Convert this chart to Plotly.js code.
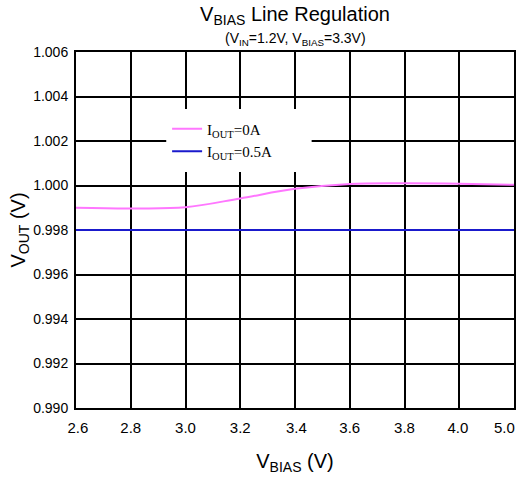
<!DOCTYPE html>
<html>
<head>
<meta charset="utf-8">
<script src="https://cdn.plot.ly/plotly-3.0.1.min.js"></script>
<style>html,body{margin:0;padding:0;background:#fff}#chart{width:519px;height:482px}</style>
</head>
<body>
<div id="chart"></div>
<script>
// Data
const vbiasPos = [2.6, 2.8, 3.0, 3.2, 3.4, 3.6, 3.8, 4.0, 4.2];
const vbiasLabels = ["2.6", "2.8", "3.0", "3.2", "3.4", "3.6", "3.8", "4.0", "5.0"];
const vout0A = [0.99900, 0.99897, 0.99902, 0.99942, 0.99985, 1.00007, 1.00010, 1.00008, 1.00003];
const vout05A = [0.99800, 0.99800, 0.99800, 0.99800, 0.99800, 0.99800, 0.99800, 0.99800, 0.99800];
const yTicks = [0.990, 0.992, 0.994, 0.996, 0.998, 1.000, 1.002, 1.004, 1.006];

// Layout-only: where the x tick labels sit (slightly off the grid lines in the reference)
const xLabelAt = [2.607, 2.8, 3.0, 3.2, 3.405, 3.6, 3.8, 3.995, 4.165];

const sans = "Arial, 'Liberation Sans', sans-serif";
const serif = "'Times New Roman', 'Liberation Serif', serif";

const traces = [
  {x: vbiasPos, y: vout0A, type: 'scatter', mode: 'lines', name: 'I<sub>OUT</sub>=0A',
   line: {color: '#ff77ff', width: 2, shape: 'spline', smoothing: 1}},
  {x: vbiasPos, y: vout05A, type: 'scatter', mode: 'lines', name: 'I<sub>OUT</sub>=0.5A',
   line: {color: '#1a1acc', width: 2}},
  // invisible helper trace to carry the tick-label axis
  {x: [vbiasPos[0]], y: [yTicks[0]], xaxis: 'x2', type: 'scatter', mode: 'none',
   showlegend: false, hoverinfo: 'skip'}
];

const layout = {
  width: 519, height: 482,
  margin: {l: 76, r: 5, t: 52, b: 74},
  paper_bgcolor: '#fff', plot_bgcolor: '#fff',
  font: {family: sans, color: '#000', size: 14},
  title: {
    text: 'V<sub>BIAS</sub> Line Regulation',
    font: {family: sans, size: 20, color: '#000'},
    x: 0.5, xref: 'paper', xanchor: 'center',
    y: 0.985, yref: 'container', yanchor: 'top'
  },
  annotations: [{
    text: '(V<sub>IN</sub>=1.2V, V<sub>BIAS</sub>=3.3V)',
    font: {family: sans, size: 14, color: '#000'},
    xref: 'paper', yref: 'paper', x: 0.5, y: 1.0, xanchor: 'center', yanchor: 'bottom',
    yshift: 2, showarrow: false
  }],
  shapes: [{
    type: 'rect', xref: 'paper', yref: 'paper', layer: 'above',
    x0: 0.206, x1: 0.538, y0: 0.663, y1: 0.840,
    fillcolor: '#fff', line: {width: 0}
  }],
  xaxis: {
    range: [2.6, 4.2], tickvals: vbiasPos, showticklabels: false,
    showgrid: true, gridcolor: '#000', gridwidth: 2,
    showline: true, linecolor: '#000', linewidth: 2, mirror: true,
    ticks: '', zeroline: false
  },
  xaxis2: {
    overlaying: 'x', side: 'bottom', anchor: 'y',
    range: [2.6, 4.2], tickvals: xLabelAt, ticktext: vbiasLabels,
    showgrid: false, showline: false, zeroline: false, ticks: '',
    ticklabelstandoff: 9, ticklabeloverflow: 'allow',
    tickfont: {family: sans, size: 15},
    title: {text: 'V<sub>BIAS</sub> (V)', font: {family: sans, size: 20}, standoff: 18}
  },
  yaxis: {
    range: [0.990, 1.006], tickvals: yTicks, tickformat: '.3f',
    showgrid: true, gridcolor: '#000', gridwidth: 2,
    showline: true, linecolor: '#000', linewidth: 2, mirror: true,
    ticks: '', zeroline: false, ticklabelstandoff: 3,
    tickfont: {family: sans, size: 14},
    title: {text: 'V<sub>OUT</sub> (V)', font: {family: sans, size: 20}, standoff: 2}
  },
  showlegend: true,
  legend: {
    x: 0.208, y: 0.83, xanchor: 'left', yanchor: 'top',
    bgcolor: 'rgba(0,0,0,0)', borderwidth: 0,
    font: {family: serif, size: 15, color: '#000'},
    itemwidth: 30, tracegroupgap: 0
  }
};

Plotly.newPlot('chart', traces, layout, {displayModeBar: false, staticPlot: true});
</script>
</body>
</html>
